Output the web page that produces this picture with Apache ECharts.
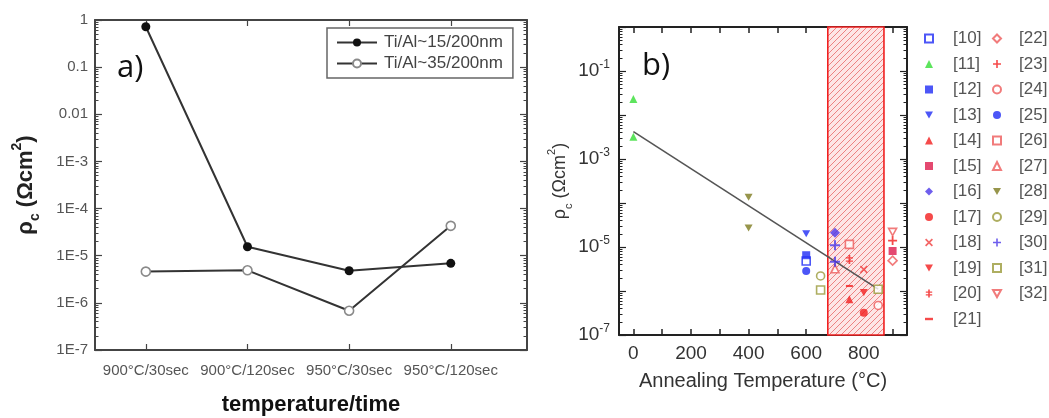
<!DOCTYPE html>
<html>
<head>
<meta charset="utf-8">
<script src="https://cdn.jsdelivr.net/npm/echarts@6/dist/echarts.min.js"></script>
<style>
  html, body { margin: 0; padding: 0; background: #fff; }
  #chart { width: 1049px; height: 418px; }
</style>
</head>
<body>
<div id="chart"></div>
<script>
// ---------- panel a) : contact resistivity vs. anneal recipe ----------
const recipeLabels = ['900°C/30sec', '900°C/120sec', '950°C/30sec', '950°C/120sec'];
const rhoTiAl15 = [0.72, 1.55e-5, 4.8e-6, 6.9e-6];
const rhoTiAl35 = [4.6e-6, 4.9e-6, 6.8e-7, 4.3e-5];

// ---------- panel b) : literature survey vs. annealing temperature ----------
const refIds = ['[10]', '[11]', '[12]', '[13]', '[14]', '[15]', '[16]', '[17]', '[18]', '[19]', '[20]', '[21]',
                '[22]', '[23]', '[24]', '[25]', '[26]', '[27]', '[28]', '[29]', '[30]', '[31]', '[32]'];
const surveyRef  = ['[11]', '[11]', '[28]', '[28]', '[13]', '[10]', '[12]', '[25]', '[29]', '[31]',
                    '[16]', '[30]', '[30]', '[27]', '[26]', '[20]', '[21]', '[14]', '[18]', '[19]',
                    '[17]', '[31]', '[24]', '[32]', '[23]', '[15]', '[22]'];
const surveyTemp = [0, 0, 400, 400, 600, 600, 600, 600, 650, 650,
                    700, 700, 700, 700, 750, 750, 750, 750, 800, 800,
                    800, 850, 850, 900, 900, 900, 900];
const surveyRho  = [0.023, 3.2e-3, 1.35e-4, 2.7e-5, 2.0e-5, 4.8e-6, 6.5e-6, 2.85e-6, 2.2e-6, 1.05e-6,
                    2.1e-5, 1.1e-5, 4.6e-6, 3.2e-6, 1.15e-5, 5.2e-6, 1.3e-6, 6.5e-7, 3.1e-6, 9.2e-7,
                    3.2e-7, 1.1e-6, 4.7e-7, 2.2e-5, 1.4e-5, 8.1e-6, 4.9e-6];
const trendTemp = [0, 850];
const trendRho  = [4.2e-3, 1.1e-6];
const processWindow = [675, 870];

const FONT = '"Liberation Sans", Arial, sans-serif';

// marker shapes
const P_PLUS = 'path://M4,0H6V4H10V6H6V10H4V6H0V4H4Z';
const P_CROSS = 'path://M1.5,0L5,3.5L8.5,0L10,1.5L6.5,5L10,8.5L8.5,10L5,6.5L1.5,10L0,8.5L3.5,5L0,1.5Z';
const P_DAGGER = 'path://M4,0H6V10H4Z M1,2.5H9V4H1Z M1,6H9V7.5H1Z';
const P_DOWN = 'path://M0,0L10,0L5,9Z';
const P_DASH = 'path://M0,0H10V3H0Z';
const BLUE = '#1f2cf5', GREEN = '#35dd35', RED = '#f21d1d', PINK = '#ee5a5a', OLIVE = '#7d7a1e', VIOLET = '#4a36e8';

const markerStyle = {
  '[10]': { s: 'rect', c: BLUE, open: true },
  '[11]': { s: 'triangle', c: GREEN },
  '[12]': { s: 'rect', c: BLUE },
  '[13]': { s: P_DOWN, c: BLUE },
  '[14]': { s: 'triangle', c: RED },
  '[15]': { s: 'rect', c: '#dd1c4c' },
  '[16]': { s: 'diamond', c: VIOLET, size: 10 },
  '[17]': { s: 'circle', c: RED },
  '[18]': { s: P_CROSS, c: '#f04040' },
  '[19]': { s: P_DOWN, c: RED },
  '[20]': { s: P_DAGGER, c: RED, size: 9 },
  '[21]': { s: P_DASH, c: RED, size: 7 },
  '[22]': { s: 'diamond', c: PINK, open: true, size: 9 },
  '[23]': { s: P_PLUS, c: RED, size: 9 },
  '[24]': { s: 'circle', c: PINK, open: true },
  '[25]': { s: 'circle', c: BLUE },
  '[26]': { s: 'rect', c: PINK, open: true },
  '[27]': { s: 'triangle', c: PINK, open: true },
  '[28]': { s: P_DOWN, c: OLIVE },
  '[29]': { s: 'circle', c: '#9a9a3a', open: true },
  '[30]': { s: P_PLUS, c: VIOLET, size: 10 },
  '[31]': { s: 'rect', c: '#9a9a3a', open: true },
  '[32]': { s: P_DOWN, c: PINK, open: true }
};

// log-spaced minor tick positions between decades (as exponents)
const logMinorExp = [];
for (let e = -7; e < 0; e++) for (let k = 2; k <= 9; k++) logMinorExp.push(e + Math.log10(k));

// hatch fill for the process window
function hatchPattern() {
  const c = document.createElement('canvas');
  c.width = 6; c.height = 6;
  const g = c.getContext('2d');
  g.fillStyle = '#fde6e6';
  g.fillRect(0, 0, 6, 6);
  g.strokeStyle = 'rgba(226,70,70,0.7)';
  g.lineWidth = 0.9;
  g.beginPath();
  g.moveTo(0, 6); g.lineTo(6, 0);
  g.moveTo(-1, 1); g.lineTo(1, -1);
  g.moveTo(5, 7); g.lineTo(7, 5);
  g.stroke();
  return c;
}

const rhoTitle = '{t|ρ}{sub|c}{t| (Ωcm}{sup|2}{t|)}';
function rhoRich(size, weight, color) {
  return {
    t: { fontSize: size, fontWeight: weight, color: color, fontFamily: FONT, lineHeight: size + 10 },
    sub: { fontSize: Math.round(size * 0.62), fontWeight: weight, color: color, fontFamily: FONT, verticalAlign: 'bottom', lineHeight: size + 10 },
    sup: { fontSize: Math.round(size * 0.62), fontWeight: weight, color: color, fontFamily: FONT, verticalAlign: 'top', lineHeight: size + 10 }
  };
}

const fmtA = v => {
  const e = Math.round(Math.log10(v));
  if (e === 0) return '1';
  if (e === -1) return '0.1';
  if (e === -2) return '0.01';
  return '1E' + e;
};
const fmtB = v => {
  const e = Math.round(Math.log10(v));
  return (e % 2 === 0) ? '' : '{b|10}{s|' + e + '}';
};

const AX_A = '#444', AX_B = '#222';
const logMajor = (grid, pos, color, labels) => ({
  type: 'log', logBase: 10, min: 1e-7, max: 1, interval: 1, gridIndex: grid, position: pos,
  axisLine: { show: true, onZero: false, lineStyle: { color: color, width: 2 } },
  axisTick: { show: true, inside: true, length: 7, lineStyle: { color: color, width: 1.2 } },
  splitLine: { show: false },
  axisLabel: labels ? labels : { show: false }
});
// tick-only companion axis spanning the same decades in exponent units
const logMinorTicks = (grid, pos, color) => ({
  type: 'value', min: -7, max: 0, gridIndex: grid, position: pos,
  axisLine: { show: false, onZero: false },
  axisTick: { show: true, inside: true, length: 3.5, customValues: logMinorExp, lineStyle: { color: color, width: 1 } },
  splitLine: { show: false },
  axisLabel: { show: false }
});

const chart = echarts.init(document.getElementById('chart'), null, { renderer: 'canvas' });

const surveySeries = refIds.map(id => {
  const st = markerStyle[id];
  const pts = [];
  surveyRef.forEach((r, i) => { if (r === id) pts.push([surveyTemp[i], surveyRho[i]]); });
  return {
    type: 'scatter', name: id, xAxisIndex: 2, yAxisIndex: 4, z: 5,
    data: pts,
    symbol: st.s,
    symbolKeepAspect: true,
    symbolSize: st.size || 8,
    itemStyle: st.open
      ? { color: '#fff', borderColor: st.c, borderWidth: 1.6 }
      : { color: st.c },
    emphasis: { disabled: true }
  };
});

chart.setOption({
  animation: false,
  backgroundColor: '#fff',
  textStyle: { fontFamily: FONT },
  grid: [
    { left: 95, top: 20, width: 432, height: 330, outerBoundsMode: 'none' },
    { left: 619, top: 27, width: 288, height: 308, outerBoundsMode: 'none' }
  ],
  xAxis: [
    {
      type: 'value', gridIndex: 0, min: -0.5, max: 3.75, position: 'bottom',
      axisLine: { onZero: false, lineStyle: { color: AX_A, width: 2 } },
      axisTick: { inside: true, length: 6, customValues: [0, 1, 2, 3], lineStyle: { color: AX_A, width: 1.2 } },
      axisLabel: { customValues: [0, 1, 2, 3], formatter: v => recipeLabels[Math.round(v)], fontSize: 15, color: '#555', margin: 13 },
      splitLine: { show: false },
      name: 'temperature/time', nameLocation: 'middle', nameGap: 44,
      nameTextStyle: { fontSize: 22, fontWeight: 'bold', color: '#111' }
    },
    {
      type: 'value', gridIndex: 0, min: -0.5, max: 3.75, position: 'top',
      axisLine: { onZero: false, lineStyle: { color: AX_A, width: 2 } },
      axisTick: { inside: true, length: 6, customValues: [0, 1, 2, 3], lineStyle: { color: AX_A, width: 1.2 } },
      axisLabel: { show: false }, splitLine: { show: false }
    },
    {
      type: 'value', gridIndex: 1, min: -50, max: 950, position: 'bottom',
      axisLine: { onZero: false, lineStyle: { color: AX_B, width: 2 } },
      axisTick: { inside: true, length: 6, customValues: [0, 100, 200, 300, 400, 500, 600, 700, 800, 900], lineStyle: { color: AX_B, width: 1.5 } },
      axisLabel: { customValues: [0, 200, 400, 600, 800], fontSize: 19, color: '#333', margin: 9 },
      splitLine: { show: false },
      name: 'Annealing Temperature (°C)', nameLocation: 'middle', nameGap: 36,
      nameTextStyle: { fontSize: 20, color: '#333' }
    },
    {
      type: 'value', gridIndex: 1, min: -50, max: 950, position: 'top',
      axisLine: { onZero: false, lineStyle: { color: AX_B, width: 2 } },
      axisTick: { inside: true, length: 6, customValues: [0, 100, 200, 300, 400, 500, 600, 700, 800, 900], lineStyle: { color: AX_B, width: 1.5 } },
      axisLabel: { show: false }, splitLine: { show: false }
    }
  ],
  yAxis: [
    Object.assign(logMajor(0, 'left', AX_A, { formatter: fmtA, fontSize: 15, color: '#555', margin: 7 }), {
      name: rhoTitle, nameLocation: 'middle', nameGap: 53,
      nameTextStyle: { rich: rhoRich(22, 'bold', '#222') }
    }),
    logMinorTicks(0, 'left', AX_A),
    logMajor(0, 'right', AX_A),
    logMinorTicks(0, 'right', AX_A),
    Object.assign(logMajor(1, 'left', AX_B, {
      formatter: fmtB, margin: 9,
      rich: {
        b: { fontSize: 19, color: '#333', fontFamily: FONT, lineHeight: 24 },
        s: { fontSize: 12, color: '#333', fontFamily: FONT, verticalAlign: 'top', lineHeight: 24 }
      }
    }), {
      name: rhoTitle, nameLocation: 'middle', nameGap: 44,
      nameTextStyle: { rich: rhoRich(18, 'normal', '#333') }
    }),
    logMinorTicks(1, 'left', AX_B),
    logMajor(1, 'right', AX_B),
    logMinorTicks(1, 'right', AX_B)
  ],
  legend: [
    {
      data: ['Ti/Al~15/200nm', 'Ti/Al~35/200nm'],
      orient: 'vertical', left: 327, top: 28,
      padding: [6, 10, 6, 9], itemGap: 4, itemWidth: 40, itemHeight: 10,
      borderColor: '#666', borderWidth: 1.5, selectedMode: false,
      textStyle: { fontSize: 17, color: '#444', padding: [0, 0, 0, 2] }
    },
    {
      data: refIds.slice(0, 12),
      orient: 'vertical', left: 919, top: 25,
      itemGap: 8.5, itemWidth: 8, itemHeight: 8, selectedMode: false,
      textStyle: { fontSize: 17, color: '#555', padding: [0, 0, 0, 15] }
    },
    {
      data: refIds.slice(12),
      orient: 'vertical', left: 987, top: 25,
      itemGap: 8.5, itemWidth: 8, itemHeight: 8, selectedMode: false,
      textStyle: { fontSize: 17, color: '#555', padding: [0, 0, 0, 13] }
    }
  ],
  graphic: [
    { type: 'text', left: 117, top: 53, style: { text: 'a)', font: '31px "Open Sans", "Noto Sans", sans-serif', fill: '#111' } },
    { type: 'text', left: 642, top: 51, style: { text: 'b)', font: '31px "Open Sans", "Noto Sans", sans-serif', fill: '#111' } }
  ],
  series: [
    {
      type: 'line', name: 'Ti/Al~15/200nm', xAxisIndex: 0, yAxisIndex: 0,
      data: rhoTiAl15.map((v, i) => [i, v]),
      symbol: 'circle', symbolSize: 9,
      lineStyle: { color: '#333', width: 2 },
      itemStyle: { color: '#111' }, z: 4
    },
    {
      type: 'line', name: 'Ti/Al~35/200nm', xAxisIndex: 0, yAxisIndex: 0,
      data: rhoTiAl35.map((v, i) => [i, v]),
      symbol: 'circle', symbolSize: 9,
      lineStyle: { color: '#333', width: 2 },
      itemStyle: { color: '#fff', borderColor: '#8a8a8a', borderWidth: 1.6 }, z: 3
    },
    {
      type: 'line', name: 'window', xAxisIndex: 2, yAxisIndex: 4, data: [], z: 1, silent: true,
      markArea: {
        silent: true,
        itemStyle: { color: { image: hatchPattern(), repeat: 'repeat' }, borderColor: '#f02020', borderWidth: 1.6 },
        data: [[{ xAxis: processWindow[0], yAxis: 1e-7 }, { xAxis: processWindow[1], yAxis: 1 }]]
      }
    },
    {
      type: 'line', name: 'fit', xAxisIndex: 2, yAxisIndex: 4, z: 3, silent: true,
      data: trendTemp.map((t, i) => [t, trendRho[i]]),
      symbol: 'none', lineStyle: { color: '#555', width: 1.6 }
    }
  ].concat(surveySeries)
});
</script>
</body>
</html>
